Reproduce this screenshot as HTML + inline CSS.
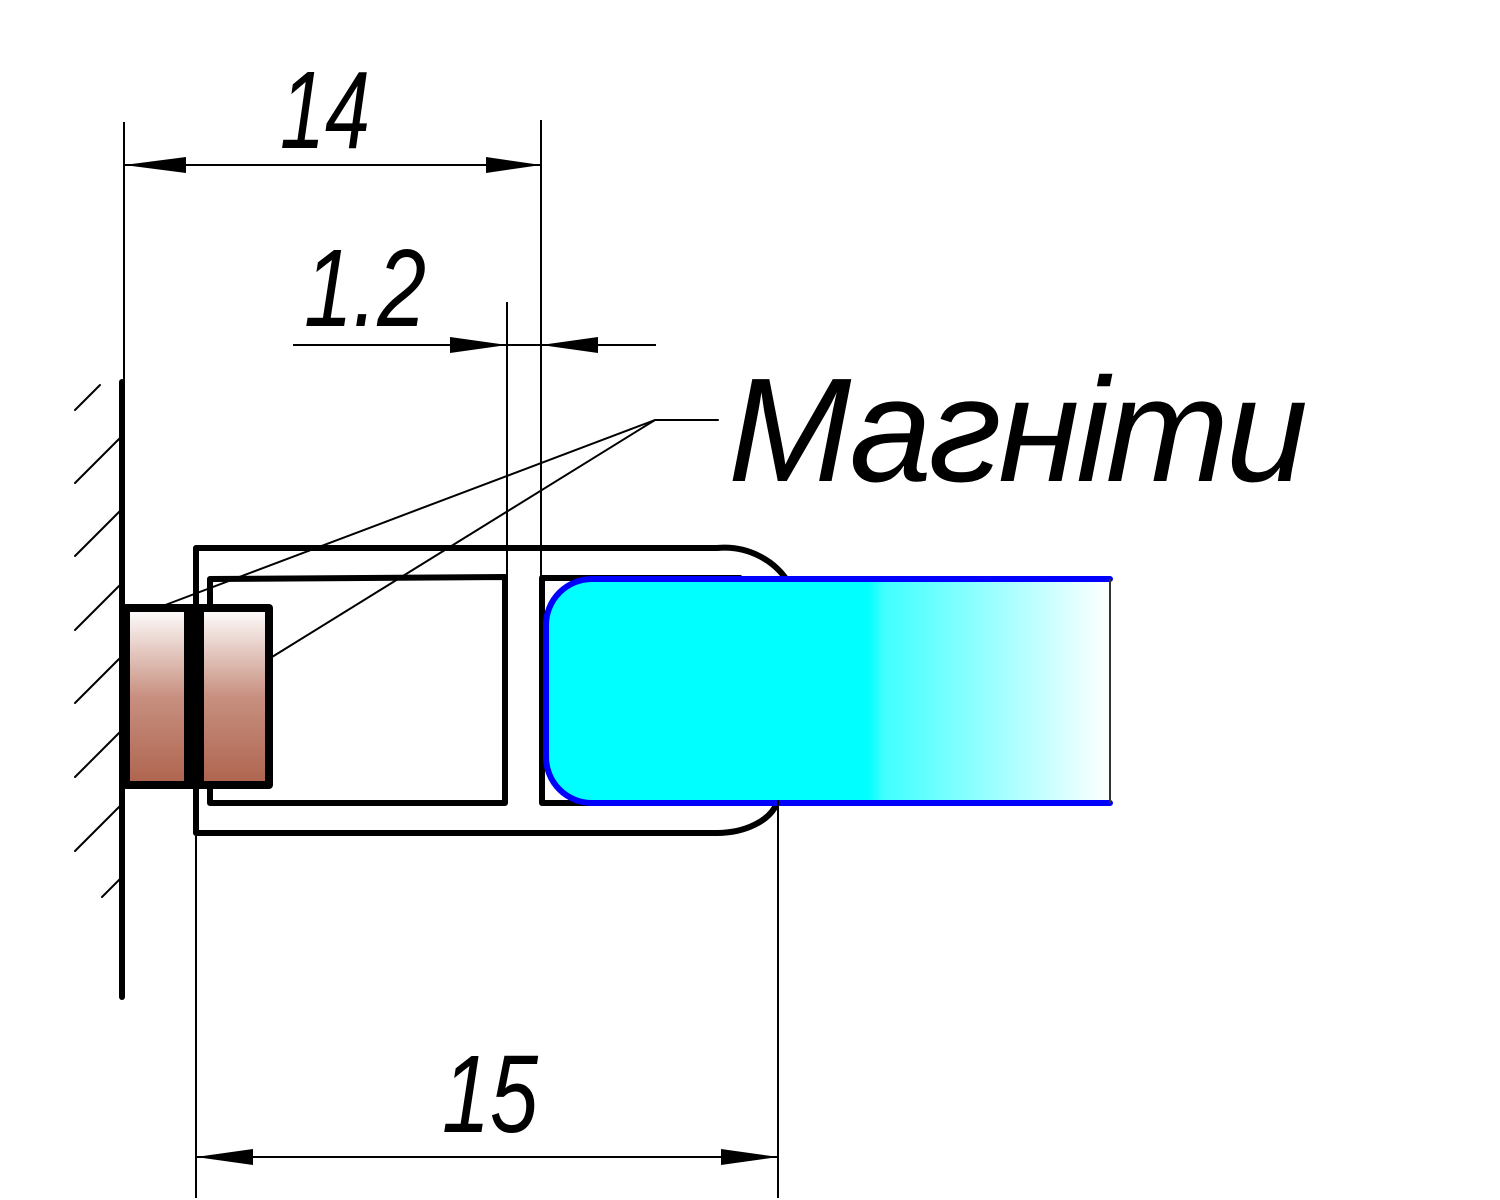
<!DOCTYPE html>
<html><head><meta charset="utf-8"><style>html,body{margin:0;padding:0;background:#fff}svg{display:block}</style></head>
<body>
<svg width="1500" height="1200" viewBox="0 0 1500 1200" xmlns="http://www.w3.org/2000/svg">
<defs>
<linearGradient id="mag" x1="0" y1="0" x2="0" y2="1">
<stop offset="0" stop-color="#ffffff"/><stop offset="0.5" stop-color="#c89080"/><stop offset="1" stop-color="#ae644e"/>
</linearGradient>
<linearGradient id="gl" x1="546" y1="0" x2="1110" y2="0" gradientUnits="userSpaceOnUse">
<stop offset="0" stop-color="#00ffff"/><stop offset="0.57" stop-color="#00ffff"/><stop offset="0.6" stop-color="#40ffff"/><stop offset="1" stop-color="#ffffff"/>
</linearGradient>
</defs>
<g stroke="#000" fill="none" stroke-linecap="round">
<line x1="122" y1="382" x2="122" y2="997" stroke-width="6"/>
<g stroke-width="2">
<line x1="75" y1="410" x2="100" y2="385"/>
<line x1="75" y1="483" x2="120" y2="438"/>
<line x1="75" y1="556" x2="120" y2="511"/>
<line x1="75" y1="630" x2="120" y2="585"/>
<line x1="75" y1="703" x2="120" y2="658"/>
<line x1="75" y1="777" x2="120" y2="732"/>
<line x1="75" y1="851" x2="120" y2="806"/>
<line x1="102" y1="897" x2="120" y2="879"/>
</g>
<path d="M717,548 H196 V833 H717" stroke-width="6" stroke-linejoin="round"/>
<path d="M717,548 A75,72 0 0 1 790,585" stroke-width="6"/>
<path d="M717,833 A62,40 0 0 0 777,803" stroke-width="6"/>
<path d="M210,579 L505,577 V803 H210 Z" stroke-width="6" stroke-linejoin="round"/>
<path d="M740,578 H542 V803 H740" stroke-width="6" stroke-linejoin="round"/>
<g stroke-width="2">
<line x1="655" y1="420" x2="718" y2="420"/>
<line x1="655" y1="420" x2="160" y2="607"/>
<line x1="655" y1="420" x2="272" y2="657"/>
</g>
</g>
<rect x="126" y="608" width="62" height="177" fill="url(#mag)" stroke="#000" stroke-width="8" stroke-linejoin="round"/>
<rect x="200" y="608" width="69" height="177" fill="url(#mag)" stroke="#000" stroke-width="8" stroke-linejoin="round"/>
<rect x="186" y="604" width="14" height="185" fill="#000"/>
<path d="M1110,579 H592 A46,46 0 0 0 546,625 V757 A46,46 0 0 0 592,803 H1110 Z" fill="url(#gl)" stroke="none"/>
<path d="M1110,579 H592 A46,46 0 0 0 546,625 V757 A46,46 0 0 0 592,803 H1110" fill="none" stroke="#0000ff" stroke-width="6" stroke-linecap="round"/>
<line x1="1110" y1="579" x2="1110" y2="803" stroke="#333" stroke-width="2"/>
<g stroke="#000" stroke-width="2">
<line x1="124" y1="122" x2="124" y2="382"/>
<line x1="541" y1="120" x2="541" y2="578"/>
<line x1="124" y1="165" x2="541" y2="165"/>
<line x1="507" y1="302" x2="507" y2="578"/>
<line x1="293" y1="345" x2="656" y2="345"/>
<line x1="196" y1="836" x2="196" y2="1198"/>
<line x1="778" y1="800" x2="778" y2="1198"/>
<line x1="196" y1="1157" x2="778" y2="1157"/>
</g>
<g fill="#000">
<polygon points="124,165 186,157 186,173"/>
<polygon points="541,165 486,157 486,173"/>
<polygon points="507,345 450,337 450,353"/>
<polygon points="541,345 598,337 598,353"/>
<polygon points="196,1157 253,1149 253,1165"/>
<polygon points="778,1157 721,1149 721,1165"/>
</g>
<g font-family="Liberation Sans, DejaVu Sans, sans-serif" font-style="italic" fill="#000">
<text x="280" y="148" font-size="110" textLength="90" lengthAdjust="spacingAndGlyphs">14</text>
<text x="304" y="326" font-size="110" textLength="122" lengthAdjust="spacingAndGlyphs">1.2</text>
<text x="442" y="1132" font-size="110" textLength="96" lengthAdjust="spacingAndGlyphs">15</text>
<text x="728" y="481" font-size="148" textLength="580" lengthAdjust="spacing">Магніти</text>
</g>
</svg>
</body></html>
